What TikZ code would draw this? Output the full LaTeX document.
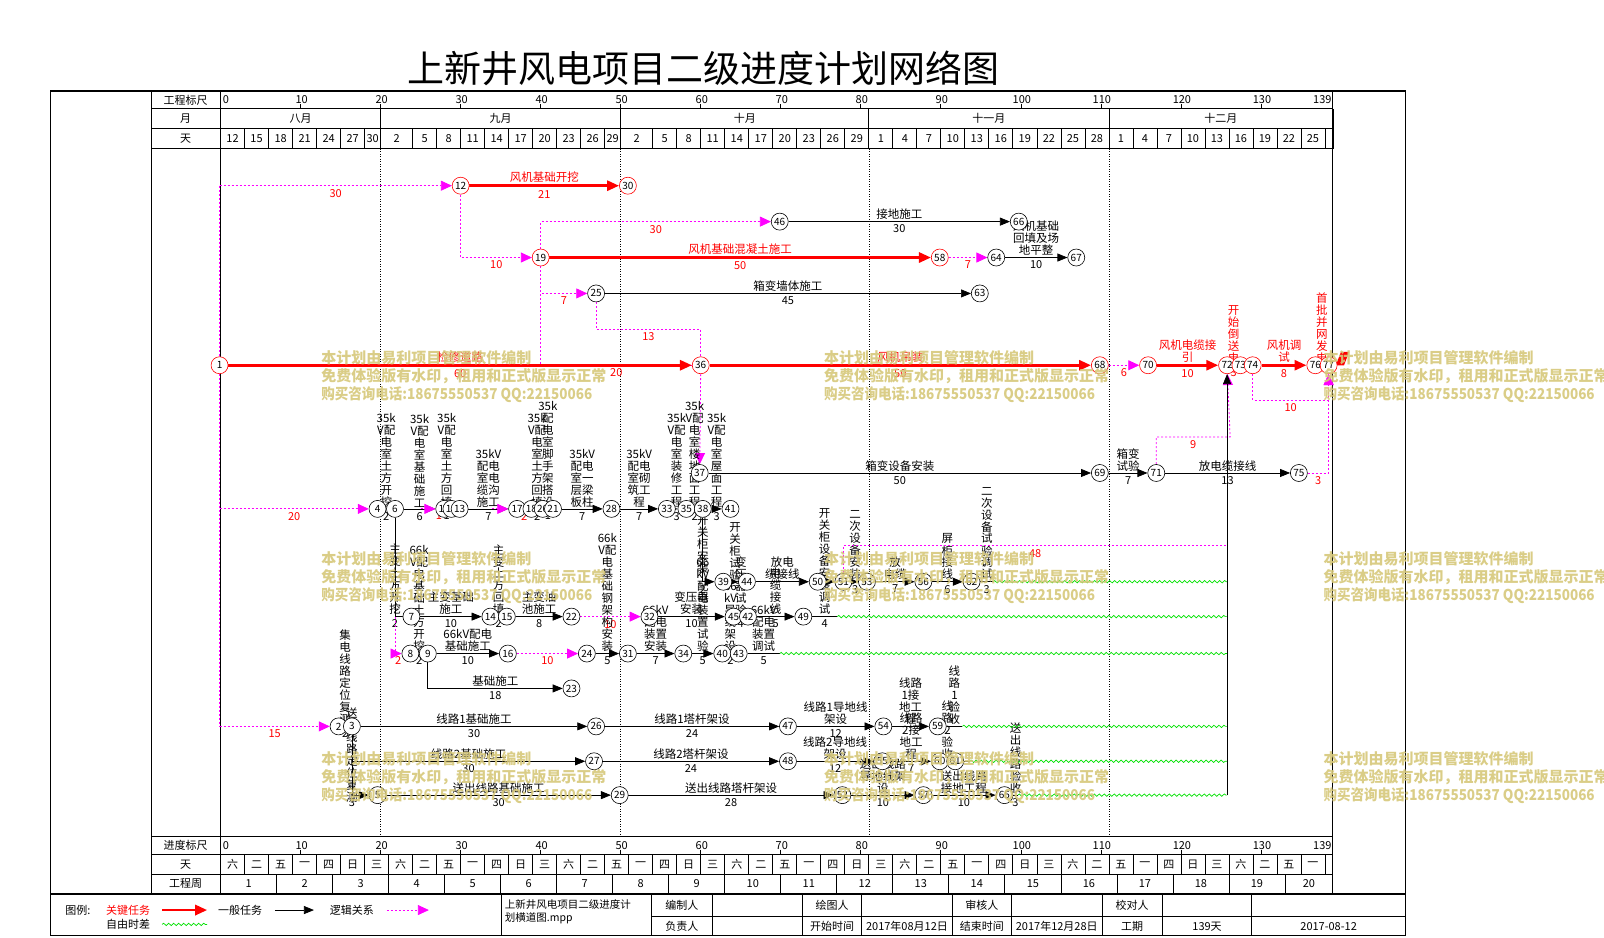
\documentclass[tikz,border=0pt]{standalone}
\usepackage{fontspec}
\usepackage{graphicx}
\setmainfont{Noto Sans CJK SC}
\usetikzlibrary{arrows.meta,decorations.pathmorphing}
\pgfdeclarelayer{grid}
\pgfdeclarelayer{edges}
\pgfsetlayers{grid,edges,main}
\definecolor{critred}{RGB}{255,0,0}
\definecolor{lagpink}{RGB}{255,0,255}
\definecolor{freegreen}{RGB}{0,225,0}
\definecolor{wmark}{RGB}{214,200,122}
\newcommand{\weekch}[1]{\ifcase#1 六\or 二\or 五\or 一\or 四\or 日\or 三\fi}
\tikzset{
  evt/.style={circle,draw=black,line width=0.6pt,fill=white,minimum size=17pt,inner sep=0pt,font=\fontsize{10}{10}\selectfont},
  critevt/.style={evt,draw=critred},
  crittask/.style={critred,line width=2.8pt,-{Triangle[length=12pt,width=10pt]}},
  task/.style={black,line width=0.7pt,-{Triangle[length=10pt,width=8pt]}},
  bareline/.style={black,line width=0.7pt},
  lag/.style={lagpink,line width=0.8pt,dash pattern=on 2pt off 2pt},
  lagarr/.style={lag,-{Triangle[length=11pt,width=10pt]}},
  freeslack/.style={freegreen,line width=0.7pt,decorate,decoration={snake,amplitude=1.2pt,segment length=5pt}},
  vname/.style={font=\fontsize{11.5}{12}\selectfont,align=center,inner sep=0pt},
  tname/.style={vname,above=1.5pt},
  critname/.style={tname,text=critred},
  tdur/.style={font=\fontsize{11}{12}\selectfont,inner sep=0pt,below=3pt},
  critdur/.style={tdur,text=critred},
  hdr/.style={font=\fontsize{11}{12}\selectfont,inner sep=0pt},
  wm/.style={font=\fontsize{15}{18}\bfseries\selectfont,text=wmark,align=left,anchor=north west,inner sep=0pt,opacity=0.9}
}
\begin{document}
\begin{tikzpicture}[x=1.026pt,y=-1.026pt]
\useasboundingbox (0,0) rectangle (1563.4,913.3);

\node[font=\fontsize{37}{40}\selectfont,inner sep=0pt] (title) at (686,67) {上新井风电项目二级进度计划网络图};

\begin{pgfonlayer}{grid}
% frame and table
\draw[line width=1.2pt] (49,89) rectangle (1370,912);
\draw[line width=2.2pt] (49,89) -- (1370,89);
\draw[line width=2pt] (49,871) -- (1370,871);
\draw[line width=1pt] (148,89) -- (148,871);
\draw[line width=0.8pt] (215,89) -- (215,871);
\draw[line width=1pt] (1299.2,89) -- (1299.2,871);
\foreach \hy in {106,125,145,815,833,852}
  \draw[line width=0.7pt] (148,\hy) -- (1299.2,\hy);
\node[hdr] at (181,97.5) {工程标尺};
\node[hdr] at (181,115.5) {月};
\node[hdr] at (181,135) {天};
\node[hdr] at (181,824) {进度标尺};
\node[hdr] at (181,842.5) {天};
\node[hdr] at (181,861) {工程周};
% scale rows
\foreach \sy in {97.5,824} {
  \node[hdr,anchor=west] at (217,\sy) {0};
  \node[hdr,anchor=east] at (1298,\sy) {139};
  \foreach \tv in {10,20,...,130} {
    \draw[line width=0.7pt] ({215+7.8*\tv},\sy+4) -- ({215+7.8*\tv},\sy+8.5);
    \node[hdr] at ({215+7.8*\tv+1},\sy) {\tv};
  }
}
% months
\foreach \ca/\cb/\cl in {0/20/八月,20/50/九月,50/81/十月,81/111/十一月,111/139/十二月} {
  \draw[line width=0.7pt] ({215+7.8*\cb},106) -- ({215+7.8*\cb},125);
  \node[hdr] at ({215+3.9*(\ca+\cb)},115.5) {\cl};
}
% days
\foreach \ca/\cb/\cl in {0/3/12,3/6/15,6/9/18,9/12/21,12/15/24,15/18/27,18/20/30,
  20/24/2,24/27/5,27/30/8,30/33/11,33/36/14,36/39/17,39/42/20,42/45/23,45/48/26,48/50/29,
  50/54/2,54/57/5,57/60/8,60/63/11,63/66/14,66/69/17,69/72/20,72/75/23,75/78/26,78/81/29,
  81/84/1,84/87/4,87/90/7,90/93/10,93/96/13,96/99/16,99/102/19,102/105/22,105/108/25,108/111/28,
  111/114/1,114/117/4,117/120/7,120/123/10,123/126/13,126/129/16,129/132/19,132/135/22,135/138/25,138/139/{}} {
  \draw[line width=0.7pt] ({215+7.8*\cb},125) -- ({215+7.8*\cb},145);
  \node[hdr] at ({215+3.9*(\ca+\cb)},135) {\cl};
}
% weekdays
\foreach \wk in {0,...,45} {
  \pgfmathtruncatemacro\wdi{mod(\wk,7)}
  \draw[line width=0.7pt] ({215+7.8*(3*\wk+3)},833) -- ({215+7.8*(3*\wk+3)},852);
  \node[hdr] at ({215+7.8*(3*\wk+1.5)},842.5) {\weekch{\wdi}};
}
% project weeks
\foreach \wk in {1,...,19} {
  \draw[line width=0.7pt] ({215+7.8*7*\wk},852) -- ({215+7.8*7*\wk},871);
  \node[hdr] at ({215+7.8*(7*\wk-3.5)},861) {\wk};
}
\node[hdr] at ({215+7.8*136},861) {20};
% month boundaries
\foreach \md in {20,50,81,111}
  \draw[line width=0.6pt,dash pattern=on 1pt off 1.5pt] ({215+7.8*\md},145) -- ({215+7.8*\md},815);

% legend
\node[hdr] (lgt) at (76,887) {图例:};
\node[hdr,text=critred] (lgc) at (125,887) {关键任务};
\coordinate (lc1) at (158,887);
\coordinate (lc2) at (202,887);
\draw[crittask] (lc1) -- (lc2);
\node[hdr] (lgg) at (234,887) {一般任务};
\coordinate (lg1) at (268,887);
\coordinate (lg2) at (306,887);
\draw[task] (lg1) -- (lg2);
\node[hdr] (lgl) at (343,887) {逻辑关系};
\coordinate (ll1) at (377,887);
\coordinate (ll2) at (418,887);
\draw[lagarr] (ll1) -- (ll2);
\node[hdr] (lgf) at (125,901) {自由时差};
\coordinate (lf1) at (158,901);
\coordinate (lf2) at (202,901);
\draw[freeslack] (lf1) -- (lf2);
\foreach \vx in {489,635,694,782,840,928,986,1074,1133,1220}
  \draw[line width=0.7pt] (\vx,871) -- (\vx,912);
\draw[line width=0.7pt] (635,893) -- (1370,893);
\node[font=\fontsize{10.5}{13}\selectfont,align=left,anchor=north west,inner sep=0pt] (fname) at (492,877) {上新井风电项目二级进度计\\划横道图.mpp};
\node[hdr] at (664.5,882) {编制人};
\node[hdr] at (664.5,903) {负责人};
\node[hdr] at (811,882) {绘图人};
\node[hdr] at (811,903) {开始时间};
\node[hdr] at (884,903) {2017年08月12日};
\node[hdr] at (957,882) {审核人};
\node[hdr] at (957,903) {结束时间};
\node[hdr] at (1030,903) {2017年12月28日};
\node[hdr] at (1103.5,882) {校对人};
\node[hdr] at (1103.5,903) {工期};
\node[hdr] at (1176.5,903) {139天};
\node[hdr] at (1295,903) {2017-08-12};
\end{pgfonlayer}

% events
\foreach \id/\px/\py in {1/214/356,12/449/181,30/612/181,19/527/251,58/916/251,36/683/356,
  68/1072/356,70/1119/356,72/1196/356,73/1209/356,74/1221/356,76/1282/356,77/1295/356}
  \node[critevt] (n\id) at (\px,\py) {\id};
\foreach \id/\px/\py in {46/760/216,66/993/216,64/971/251,67/1049/251,25/581/286,63/955/286,
  37/682/461,69/1072/461,71/1127/461,75/1266/461,
  4/368/496,6/385/496,10/433/496,11/440/496,13/448/496,17/504/496,18/518/496,20/529/496,21/539/496,
  28/596/496,33/650/496,35/669/496,38/685/496,41/712/496,
  39/705/567,44/728/567,50/797/567,51/822/567,53/845/567,56/900/567,62/947/567,
  7/401/601,14/478/601,15/494/601,22/557/601,32/633/601,45/715/601,42/729/601,49/783/601,
  8/400/637,9/417/637,16/495/637,24/572/637,31/612/637,34/666/637,40/704/637,43/720/637,
  23/557/671,
  2/330/708,3/343/708,26/581/708,47/768/708,54/861/708,59/914/708,
  27/579/742,48/768/742,55/860/742,60/916/742,61/931/742,
  5/368/775,29/604/775,52/821/775,57/900/775,65/979/775}
  \node[evt] (n\id) at (\px,\py) {\id};

\begin{pgfonlayer}{edges}
% links from the start event
\coordinate (v12) at (214,181);
\coordinate (v4) at (214,496);
\coordinate (v2) at (214,708);
\draw[lag] (v12) -- (v2);
\draw[lagarr] (v12) -- node[critdur]{30} (n12);
\draw[lagarr] (v4) -- node[critdur]{20} (n4);
\draw[lagarr] (v2) -- node[critdur]{15} (n2);

% turbine foundations
\draw[lagarr] (n12) |- node[pos=0.75,critdur]{10} (n19);
\draw[lagarr] (n19) |- node[pos=0.75,critdur]{30} (n46);
\draw[lagarr] (n19) |- node[pos=0.75,critdur]{7} (n25);
\draw[lag] (n19) |- node[pos=0.75,critdur]{20} (n36);
\coordinate (c36) at (683,321);
\draw[lag] (n25) |- node[pos=0.75,critdur]{13} (c36) -- (n36);
\draw[lagarr] (n36) -- (n37);
\draw[crittask] (n12) -- node[critname]{风机基础开挖} node[critdur]{21} (n30);
\draw[crittask] (n19) -- node[critname]{风机基础混凝土施工} node[critdur]{50} (n58);
\draw[lagarr] (n58) -- node[critdur]{7} (n64);
\draw[task] (n46) -- node[tname]{接地施工} node[tdur]{30} (n66);
\draw[task] (n64) -- node[tname]{风机基础\\回填及场\\地平整} node[tdur]{10} (n67);
\draw[task] (n25) -- node[tname]{箱变墙体施工} node[tdur]{45} (n63);

% main line
\draw[crittask] (n1) -- node[critname]{检修道路} node[critdur]{60} (n36);
\draw[crittask] (n36) -- node[critname]{风机吊装} node[critdur]{50} (n68);
\draw[lagarr] (n68) -- node[critdur]{6} (n70);
\draw[crittask] (n70) -- node[critname]{风机电缆接\\引} node[critdur]{10} (n72);
\path (n72) -- node[critname]{开\\始\\倒\\送\\电} node[critdur]{3} (n73);
\draw[crittask] (n74) -- node[critname]{风机调\\试} node[critdur]{8} (n76);
\path (n76) -- node[critname]{首\\批\\并\\网\\发\\电} (n77);
\fill[critred] (1302,356) -- (1307,343) -- (1315,343) -- (1310,356) -- cycle;
\coordinate (c74) at (1295,390);
\draw[lagarr] (n74) |- node[pos=0.75,critdur]{10} (c74) -- (n77);
\draw[lagarr] (n75) -| node[pos=0.25,critdur]{3} (n77);

% box transformer
\draw[task] (n37) -- node[tname]{箱变设备安装} node[tdur]{50} (n69);
\draw[task] (n69) -- node[tname]{箱变\\试验} node[tdur]{7} (n71);
\draw[task] (n71) -- node[tname]{放电缆接线} node[tdur]{13} (n75);
\coordinate (c71) at (1199,426);
\draw[lagarr] (n71) |- node[pos=0.75,critdur]{9} (c71) -- (n72);

% 35kV room
\path (n4) -- node[tname]{35k\\V配\\电\\室\\土\\方\\开\\挖} node[tdur]{2} (n6);
\draw[task] (n6) -- node[tname]{35k\\V配\\电\\室\\基\\础\\施\\工} node[tdur]{6} (n10);
\coordinate (m10) at (410,496);
\draw[lagarr] (m10) -- (n10);
\path (n10) -- node[critdur]{1} (n11);
\path (n11) -- node[tname]{35k\\V配\\电\\室\\土\\方\\回\\填} node[tdur]{1} (n13);
\draw[task] (n13) -- node[tname]{35kV\\配电\\室电\\缆沟\\施工} node[tdur]{7} (n17);
\coordinate (m17) at (480,496);
\draw[lagarr] (m17) -- (n17);
\path (n17) -- node[critdur]{2} (n18);
\path (n18) -- node[tname]{35k\\V配\\电\\室\\土\\方\\回\\填} node[tdur]{2} (n20);
\path (n20) -- node[tname]{35k\\配\\电\\室\\脚\\手\\架\\搭\\设} node[tdur]{1} (n21);
\draw[task] (n21) -- node[tname]{35kV\\配电\\室一\\层梁\\板柱} node[tdur]{7} (n28);
\draw[task] (n28) -- node[tname]{35kV\\配电\\室砌\\筑工\\程} node[tdur]{7} (n33);
\draw[task] (n33) -- node[tname]{35k\\V配\\电\\室\\装\\修\\工\\程} node[tdur]{3} (n35);
\path (n35) -- node[tname]{35k\\V配\\电\\室\\楼\\地\\面\\工\\程} node[tdur]{2} (n38);
\draw[task] (n38) -- node[tname]{35k\\V配\\电\\室\\屋\\面\\工\\程} node[tdur]{3} (n41);

% switchgear and secondary
\draw[task] (n38) |- node[pos=0.21,vname]{开\\关\\柜\\安\\装} node[pos=0.5,tdur]{2} (n39);
\draw[task] (n39) -- node[tname]{开\\关\\柜\\试\\验} (n44);
\draw[task] (n44) -- node[tname]{放电\\缆接线} (n50);
\draw[task] (n50) -- (n51);
\draw[task] (n51) -- node[tname]{二\\次\\设\\备\\安\\装} node[tdur]{3} (n53);
\draw[task] (n53) -- node[tname]{放\\电缆} node[tdur]{7} (n56);
\draw[task] (n56) -- node[tname]{屏\\柜\\接\\线} node[tdur]{6} (n62);
\coordinate (e62) at (968,567);
\draw[bareline] (n62) -- node[tname]{二\\次\\设\\备\\试\\验\\调\\试} node[tdur]{3} (e62);
\coordinate (c51) at (822,532);
\coordinate (j532) at (1196,532);
\draw[lag] (n51) -- (c51) -- node[critdur]{48} (j532);

% main transformer
\draw[bareline] (n6) |- node[pos=0.31,vname]{主\\变\\土\\方\\开\\挖} node[pos=0.5,tdur]{2} (n7);
\draw[lagarr] (n6 |- n7) |- node[pos=0.75,critdur]{2} (n8);
\draw[task] (n7) -- node[tname]{主变基础\\施工} node[tdur]{10} (n14);
\path (n14) -- node[tname]{主\\变\\土\\方\\回\\填} node[tdur]{2} (n15);
\draw[task] (n15) -- node[tname]{主变油\\池施工} node[tdur]{8} (n22);
\draw[lagarr] (n22) -- node[critdur]{10} (n32);
\draw[task] (n32) -- node[tname]{变压器\\安装} node[tdur]{10} (n45);
\path (n45) -- node[tname]{变\\压\\器\\试\\验} node[tdur]{4} (n42);
\draw[task] (n42) -- node[tname]{电\\缆\\接\\线} node[tdur]{5} (n49);
\coordinate (e49) at (816,601);
\draw[bareline] (n49) -- node[tname]{开\\关\\柜\\设\\备\\安\\装\\调\\试} node[tdur]{4} (e49);

% 66kV yard
\path (n8) -- node[tname]{66k\\V配\\电\\基\\础\\土\\方\\开\\挖} node[tdur]{2} (n9);
\draw[task] (n9) -- node[tname]{66kV配电\\基础施工} node[tdur]{10} (n16);
\draw[lagarr] (n16) -- node[critdur]{10} (n24);
\draw[task] (n24) -- node[tname]{66k\\V配\\电\\基\\础\\钢\\架\\构\\安\\装} node[tdur]{5} (n31);
\draw[task] (n31) -- node[tname]{66kV\\配电\\装置\\安装} node[tdur]{7} (n34);
\draw[task] (n34) -- node[tname]{66\\kV\\配\\电\\装\\置\\试\\验} node[tdur]{5} (n40);
\path (n40) -- node[tname]{66\\kV\\导\\线\\架\\设} node[tdur]{2} (n43);
\coordinate (e43) at (760,637);
\draw[bareline] (n43) -- node[tname]{66kV\\配电\\装置\\调试} node[tdur]{5} (e43);
\draw[task] (n9) |- node[pos=0.75,tname]{基础施工} node[pos=0.75,tdur]{18} (n23);

% collector and outgoing lines
\path (n2) -- node[tname]{集\\电\\线\\路\\定\\位\\复\\测} node[tdur]{2} (n3);
\draw[task] (n3) -- node[tname]{线路1基础施工} node[tdur]{30} (n26);
\draw[task] (n26) -- node[tname]{线路1塔杆架设} node[tdur]{24} (n47);
\draw[task] (n47) -- node[tname]{线路1导地线\\架设} node[tdur]{12} (n54);
\draw[task] (n54) -- node[tname]{线路\\1接\\地工\\程} (n59);
\coordinate (e59) at (938,708);
\draw[bareline] (n59) -- node[tname]{线\\路\\1\\验\\收} (e59);
\draw[task] (n3) |- node[pos=0.75,tname]{线路2基础施工} node[pos=0.75,tdur]{30} (n27);
\draw[task] (n27) -- node[tname]{线路2塔杆架设} node[tdur]{24} (n48);
\draw[task] (n48) -- node[tname]{线路2导地线\\架设} node[tdur]{12} (n55);
\draw[task] (n55) -- node[tname]{线路\\2接\\地工\\程} node[tdur]{7} (n60);
\path (n60) -- node[tname]{线\\路\\2\\验\\收} (n61);
\coordinate (e61) at (945,742);
\draw[bareline] (n61) -- (e61);
\draw[task] (n3) |- node[pos=0.17,vname]{送\\出\\线\\路\\定\\位\\复\\测} node[pos=0.5,tdur]{3} (n5);
\draw[task] (n5) -- node[tname]{送出线路基础施工} node[tdur]{30} (n29);
\draw[task] (n29) -- node[tname]{送出线路塔杆架设} node[tdur]{28} (n52);
\draw[task] (n52) -- node[tname]{送出线路\\导地线架\\设} node[tdur]{10} (n57);
\draw[task] (n57) -- node[tname]{送出线路\\接地工程} node[tdur]{10} (n65);
\coordinate (e65) at (992,775);
\draw[bareline] (n65) -- node[tname]{送\\出\\线\\路\\验\\收} node[tdur]{3} (e65);

% free float into the energising event
\coordinate (j567) at (1196,567);
\coordinate (j601) at (1196,601);
\coordinate (j637) at (1196,637);
\coordinate (j708) at (1196,708);
\coordinate (j742) at (1196,742);
\coordinate (j775) at (1196,775);
\foreach \fa/\fb in {e62/j567,e49/j601,e43/j637,e59/j708,e61/j742,e65/j775}
  \draw[freeslack] (\fa) -- (\fb);
\draw[task] (j775) -- (n72);
\end{pgfonlayer}

% watermark
\foreach \wx/\wy in {313/341,803/341,1290/341,313/537,803/537,1290/537,313/732,803/732,1290/732}
  \node[wm] at (\wx,\wy) {本计划由易利项目管理软件编制\\免费体验版有水印，租用和正式版显示正常\\\scalebox{0.9}[1]{购买咨询电话:18675550537 QQ:22150066}};
\end{tikzpicture}
\end{document}
